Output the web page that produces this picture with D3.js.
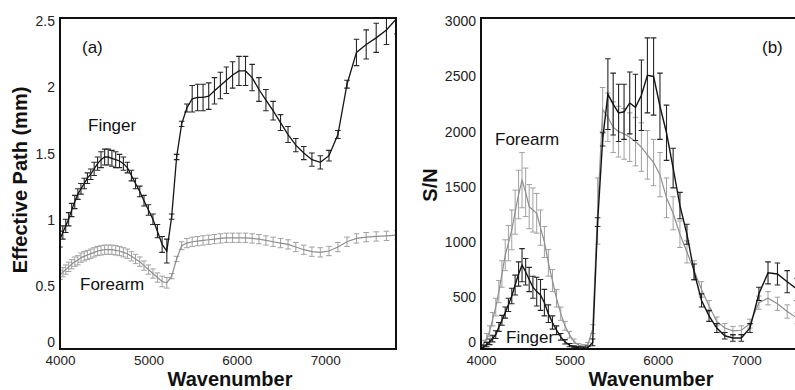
<!DOCTYPE html>
<html>
<head>
<meta charset="utf-8">
<script src="https://cdn.jsdelivr.net/npm/d3@7"></script>
<style>
    body { margin: 0; background: #fff; }
    svg { display: block; font-family: "Liberation Sans", Arial, sans-serif; }
</style>
</head>
<body>
<div id="chart"></div>
<script>
// wavenumber (cm-1) of every sample, both panels
const wavenumbers = [4000, 4032, 4065, 4098, 4132, 4167, 4202, 4237, 4274, 4310, 4348, 4386, 4425, 4464, 4505, 4545,
    4587, 4630, 4673, 4717, 4762, 4808, 4854, 4902, 4950, 5000, 5051, 5102, 5155, 5208, 5263, 5319,
    5376, 5435, 5495, 5556, 5618, 5682, 5747, 5814, 5882, 5952, 6024, 6098, 6173, 6250, 6329, 6410,
    6494, 6579, 6667, 6757, 6849, 6944, 7042, 7143, 7246, 7353, 7463, 7576, 7692, 7813];

// (a) effective path, mm
const fingerPath = [0.83, 0.88, 0.93, 0.98, 1.05, 1.11, 1.17, 1.21, 1.25, 1.29, 1.32, 1.36, 1.40, 1.43, 1.45, 1.45,
    1.44, 1.43, 1.42, 1.40, 1.37, 1.31, 1.25, 1.19, 1.12, 1.05, 0.98, 0.89, 0.79, 0.74, 1.00, 1.45,
    1.70, 1.82, 1.89, 1.90, 1.90, 1.91, 1.95, 1.99, 2.03, 2.07, 2.10, 2.10, 2.05, 1.96, 1.88, 1.80,
    1.71, 1.62, 1.54, 1.48, 1.43, 1.41, 1.46, 1.62, 2.00, 2.24, 2.30, 2.35, 2.41, 2.50];
const fingerPathErr = [0.06, 0.05, 0.05, 0.05, 0.05, 0.05, 0.04, 0.04, 0.04, 0.04, 0.04, 0.05, 0.05, 0.06, 0.06, 0.06,
    0.06, 0.06, 0.05, 0.05, 0.04, 0.04, 0.04, 0.04, 0.04, 0.04, 0.04, 0.05, 0.06, 0.09, 0.02, 0.02,
    0.02, 0.03, 0.10, 0.10, 0.10, 0.10, 0.10, 0.10, 0.10, 0.10, 0.11, 0.11, 0.10, 0.09, 0.08, 0.07,
    0.06, 0.06, 0.05, 0.05, 0.05, 0.05, 0.04, 0.03, 0.03, 0.10, 0.11, 0.11, 0.11, 0.12];
const forearmPath = [0.56, 0.58, 0.60, 0.62, 0.64, 0.66, 0.67, 0.69, 0.70, 0.71, 0.72, 0.73, 0.74, 0.745, 0.75, 0.75,
    0.75, 0.745, 0.74, 0.73, 0.72, 0.70, 0.68, 0.66, 0.63, 0.60, 0.57, 0.54, 0.51, 0.50, 0.55, 0.68,
    0.78, 0.80, 0.81, 0.815, 0.82, 0.825, 0.83, 0.835, 0.84, 0.84, 0.84, 0.84, 0.835, 0.83, 0.82, 0.81,
    0.80, 0.79, 0.77, 0.75, 0.735, 0.73, 0.74, 0.77, 0.81, 0.835, 0.845, 0.85, 0.855, 0.86];
const forearmPathErr = [0.035, 0.035, 0.035, 0.035, 0.035, 0.035, 0.035, 0.035, 0.035, 0.035, 0.035, 0.035, 0.035, 0.035, 0.035, 0.035,
    0.035, 0.035, 0.035, 0.035, 0.035, 0.035, 0.035, 0.035, 0.035, 0.035, 0.035, 0.035, 0.04, 0.04, 0.02, 0.02,
    0.03, 0.035, 0.035, 0.035, 0.035, 0.035, 0.035, 0.035, 0.035, 0.035, 0.035, 0.035, 0.035, 0.035, 0.035, 0.035,
    0.035, 0.035, 0.035, 0.035, 0.035, 0.035, 0.035, 0.035, 0.035, 0.035, 0.035, 0.035, 0.035, 0.035];

// (b) signal to noise
const fingerSN = [5, 20, 40, 65, 95, 130, 200, 260, 330, 400, 480, 580, 680, 760, 700, 630,
    560, 520, 490, 420, 320, 240, 170, 110, 65, 35, 20, 12, 10, 12, 60, 1150,
    1900, 2310, 2220, 2140, 2150, 2230, 2190, 2300, 2480, 2470, 2200, 1960, 1640, 1300, 1040, 700,
    440, 300, 190, 120, 100, 100, 190, 500, 690, 680, 610, 540, 450, 380];
const fingerSNErr = [10, 15, 20, 25, 30, 35, 40, 45, 50, 60, 70, 90, 110, 150, 120, 110,
    100, 130, 140, 120, 80, 60, 40, 30, 20, 15, 10, 10, 10, 15, 30, 40,
    60, 320, 280, 260, 250, 280, 300, 320, 340, 350, 300, 250, 180, 120, 90, 70,
    60, 50, 40, 30, 30, 30, 40, 60, 100, 100, 100, 100, 90, 80];
const forearmSN = [20, 50, 100, 160, 270, 380, 520, 680, 850, 960, 1080, 1240, 1400, 1530, 1420, 1290,
    1260, 1230, 1100, 970, 780, 620, 460, 320, 210, 130, 70, 35, 25, 40, 180, 1250,
    2170, 2100, 2010, 1970, 1950, 1920, 1880, 1830, 1760, 1690, 1580, 1370, 1230, 1040, 880, 710,
    540, 390, 250, 190, 165, 170, 230, 420, 460, 410, 340, 280, 230, 190];
const forearmSNErr = [20, 30, 40, 50, 60, 80, 100, 120, 140, 160, 180, 200, 220, 250, 220, 200,
    200, 180, 160, 140, 120, 100, 80, 60, 40, 30, 20, 15, 15, 20, 40, 300,
    200, 220, 230, 230, 230, 220, 220, 220, 220, 210, 200, 180, 150, 120, 100, 90,
    70, 50, 40, 40, 40, 40, 40, 60, 60, 60, 60, 50, 50, 50];

const xTicks = [4000, 5000, 6000, 7000];
const pathTicks = [0, 0.5, 1, 1.5, 2, 2.5];
const snTicks = [0, 500, 1000, 1500, 2000, 2500, 3000];

const FINGER = '#141414';
const FOREARM = '#8e8e8e';

class SpectrumPanel {
    constructor(_config, _series) {
        this.config = {
            svg: _config.svg,
            id: _config.id,
            left: _config.left,
            top: _config.top || 18,
            width: _config.width || 336,
            height: _config.height || 331,
            yMax: _config.yMax,
            yTicks: _config.yTicks,
            yTitle: _config.yTitle,
            yTitleX: _config.yTitleX,
            yTitleY: _config.yTitleY,
            tag: _config.tag,
            labels: _config.labels
        };
        this.series = _series;
        this.initVis();
    }

    initVis() {
        let vis = this;
        const c = vis.config;

        vis.chart = c.svg.append('g')
            .attr('transform', `translate(${c.left},${c.top})`);

        vis.chart.append('clipPath')
            .attr('id', `clip-${c.id}`)
            .append('rect')
            .attr('width', c.width)
            .attr('height', c.height);

        vis.xScale = d3.scaleLinear()
            .domain([4000, 7800])
            .range([0, c.width]);

        vis.yScale = d3.scaleLinear()
            .domain([0, c.yMax])
            .range([c.height, 0]);

        vis.renderVis();
    }

    renderVis() {
        let vis = this;
        const c = vis.config;

        const plot = vis.chart.append('g')
            .attr('clip-path', `url(#clip-${c.id})`);

        const line = d3.line()
            .x(d => vis.xScale(d.x))
            .y(d => vis.yScale(d.y));

        // forearm first so the finger curve sits on top
        vis.series.forEach(s => {
            const pts = wavenumbers.map((w, i) => ({ x: w, y: s.values[i], e: s.errors[i] }));
            const bars = plot.append('g')
                .attr('stroke', s.barColor)
                .attr('stroke-width', s.barWidth)
                .attr('fill', 'none');

            bars.selectAll('.err')
                .data(pts)
                .enter().append('path')
                .attr('class', 'err')
                .attr('d', d => {
                    const x = vis.xScale(d.x);
                    const y0 = vis.yScale(d.y - d.e);
                    const y1 = vis.yScale(d.y + d.e);
                    return `M${x},${y0}V${y1}M${x - 2.8},${y1}H${x + 2.8}M${x - 2.8},${y0}H${x + 2.8}`;
                });

            plot.append('path')
                .datum(pts)
                .attr('fill', 'none')
                .attr('stroke', s.color)
                .attr('stroke-width', s.lineWidth)
                .attr('d', line);
        });

        // axes: labels only, no ticks
        const xAxis = vis.chart.append('g')
            .attr('transform', `translate(0,${c.height})`)
            .call(d3.axisBottom(vis.xScale).tickValues(xTicks).tickFormat(d3.format('d'))
                .tickSize(0).tickPadding(6));
        xAxis.select('.domain').remove();
        xAxis.selectAll('text')
            .style('font-size', '13.5px')
            .attr('fill', '#222');

        const yAxis = vis.chart.append('g')
            .call(d3.axisLeft(vis.yScale).tickValues(c.yTicks).tickFormat(d3.format('~g'))
                .tickSize(0).tickPadding(5));
        yAxis.select('.domain').remove();
        yAxis.selectAll('text')
            .style('font-size', '14px')
            .attr('fill', '#222')
            .attr('dy', d => d === 0 ? '-0.15em' : '0.55em');

        // frame
        vis.chart.append('rect')
            .attr('width', c.width)
            .attr('height', c.height)
            .attr('fill', 'none')
            .attr('stroke', '#111')
            .attr('stroke-width', 2);

        // x title (the original runs off the bottom edge; kept just inside)
        vis.chart.append('text')
            .attr('x', c.width / 2 + 2)
            .attr('y', c.height + 37)
            .attr('text-anchor', 'middle')
            .style('font-size', '20px')
            .style('font-weight', 'bold')
            .attr('fill', '#111')
            .text('Wavenumber');

        // y title
        c.svg.append('text')
            .attr('transform', `translate(${c.yTitleX},${c.yTitleY}) rotate(-90)`)
            .attr('text-anchor', 'middle')
            .style('font-size', '20px')
            .style('font-weight', 'bold')
            .attr('fill', '#111')
            .text(c.yTitle);

        vis.chart.append('text')
            .attr('x', c.tag.x)
            .attr('y', c.tag.y)
            .style('font-size', '17px')
            .attr('fill', '#111')
            .text(c.tag.text);

        c.labels.forEach(l => {
            vis.chart.append('text')
                .attr('x', l.x)
                .attr('y', l.y)
                .style('font-size', '17px')
                .attr('fill', '#111')
                .text(l.text);
        });
    }
}

const svg = d3.select('#chart')
    .append('svg')
    .attr('width', 795)
    .attr('height', 390);

new SpectrumPanel({
    svg: svg, id: 'a', left: 60, yMax: 2.5, yTicks: pathTicks,
    yTitle: 'Effective Path (mm)', yTitleX: 27, yTitleY: 180,
    tag: { text: '(a)', x: 22, y: 35 },
    labels: [{ text: 'Finger', x: 28, y: 113 }, { text: 'Forearm', x: 20, y: 272 }]
}, [
    { values: forearmPath, errors: forearmPathErr, color: FOREARM, barColor: '#a0a0a0', lineWidth: 1.2, barWidth: 1 },
    { values: fingerPath, errors: fingerPathErr, color: FINGER, barColor: '#262626', lineWidth: 1.3, barWidth: 1.1 }
]);

new SpectrumPanel({
    svg: svg, id: 'b', left: 481, yMax: 3000, yTicks: snTicks,
    yTitle: 'S/N', yTitleX: 437, yTitleY: 185,
    tag: { text: '(b)', x: 281, y: 35 },
    labels: [{ text: 'Forearm', x: 14, y: 127 }, { text: 'Finger', x: 25, y: 325 }]
}, [
    { values: forearmSN, errors: forearmSNErr, color: FOREARM, barColor: '#a0a0a0', lineWidth: 1.2, barWidth: 1 },
    { values: fingerSN, errors: fingerSNErr, color: FINGER, barColor: '#262626', lineWidth: 1.4, barWidth: 1.1 }
]);
</script>
</body>
</html>
